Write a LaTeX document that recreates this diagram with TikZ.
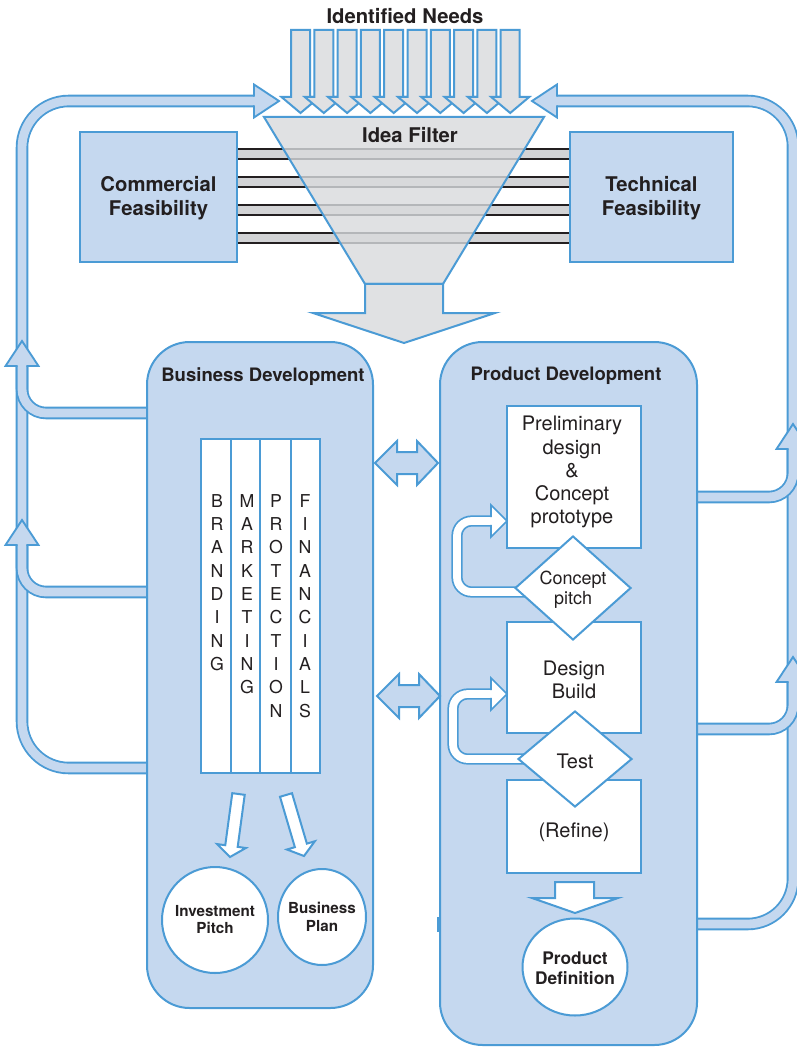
\documentclass[tikz,border=0pt]{standalone}
\usepackage{fontspec}
\setmainfont{TeX Gyre Heros}
\usetikzlibrary{calc,shapes.geometric}

\definecolor{edge}{HTML}{4B9BD5}
\definecolor{pale}{HTML}{C5D8EF}
\definecolor{funnelgray}{HTML}{E0E1E3}
\definecolor{stripegray}{HTML}{D2D3D5}
\definecolor{innerstripe}{HTML}{D8D9DB}
\definecolor{rulegray}{HTML}{B4B6B9}
\definecolor{ink}{HTML}{231F20}

\tikzset{
  outline/.style={draw=edge, line width=1.5pt, line join=miter},
  panel/.style={outline, fill=pale},
  whitebox/.style={outline, fill=white},
  grayshape/.style={outline, fill=funnelgray},
  band/.style={draw=edge, line width=1.4pt, double=pale, double distance=6.6pt},
  whiteband/.style={draw=edge, line width=1.3pt, double=white, double distance=5.8pt},
  blackrule/.style={draw=ink, line width=2pt},
  grayrule/.style={draw=rulegray, line width=1.6pt},
  headline/.style={font=\bfseries\fontsize{15.2}{18}\selectfont, text=ink, align=center, inner sep=0pt},
  paneltitle/.style={font=\bfseries\fontsize{13.9}{16}\selectfont, text=ink, inner sep=0pt},
  steptext/.style={font=\fontsize{15}{17.3}\selectfont, text=ink, align=center, inner sep=0pt},
  pitchtext/.style={font=\fontsize{13.5}{15}\selectfont, text=ink, align=center, inner sep=0pt},
  lettertext/.style={font=\fontsize{13.3}{17.5}\selectfont, text=ink, align=center, inner sep=0pt, anchor=north},
  outcometext/.style={font=\bfseries\fontsize{11.4}{13}\selectfont, text=ink, align=center, inner sep=0pt},
  bandhead/.pic={
    \fill[pale] (0,-16.5) -- (25,0) -- (0,16.5) -- cycle;
    \draw[edge, line width=1.4pt, line join=miter] (0,-4.4) -- (0,-16.5) -- (25,0) -- (0,16.5) -- (0,4.4);
  },
  loophead/.pic={
    \fill[white] (0,-16) -- (16,0) -- (0,16) -- cycle;
    \draw[edge, line width=1.3pt, line join=miter] (0,-3.9) -- (0,-16) -- (16,0) -- (0,16) -- (0,3.9);
  },
}

% hollow block arrow from #1 (tail) to #2 (tip)
\newcommand\hollowarrow[2]{%
  \coordinate (ha-head) at ($(#2)!8.3pt!(#1)$);
  \draw[whitebox]
    ($(#1)!4.7pt!90:(#2)$) -- ($(ha-head)!4.7pt!90:(#2)$) --
    ($(ha-head)!10.9pt!90:(#2)$) -- (#2) --
    ($(ha-head)!10.9pt!-90:(#2)$) -- ($(ha-head)!4.7pt!-90:(#2)$) --
    ($(#1)!4.7pt!-90:(#2)$) -- cycle;
}

\begin{document}
\begin{tikzpicture}[x=0.75pt, y=-0.75pt]
\useasboundingbox (0,0) rectangle (796,1048);

% ---------- feedback loops ----------
\draw[band, rounded corners=35pt] (148,768) -- (22,768) -- (22,101) -- (254,101);
\pic at (254,101) {bandhead};
\draw[band, rounded corners=18pt] (148,413) -- (22,413) -- (22,366);
\pic[rotate=90] at (22,366) {bandhead};
\draw[band, rounded corners=18pt] (148,592) -- (22,592) -- (22,545);
\pic[rotate=90] at (22,545) {bandhead};

\draw[band, rounded corners=34pt] (697,924) -- (793,924) -- (793,101) -- (557,101);
\pic[rotate=180] at (557,101) {bandhead};
\draw[band, rounded corners=18pt] (697,497) -- (793,497) -- (793,449);
\pic[rotate=90] at (793,449) {bandhead};
\draw[band, rounded corners=18pt] (697,729) -- (793,729) -- (793,682);
\pic[rotate=90] at (793,682) {bandhead};

% ---------- incoming needs ----------
\node[headline] (needs) at (405,16) {Identified Needs};
\foreach \i in {0,...,9} {
  \pgfmathsetmacro\cx{300.5+23.3*\i}
  \draw[grayshape] (\cx-9.5,30) -- (\cx+9.5,30) -- (\cx+9.5,97) -- (\cx+19,97)
    -- (\cx,113) -- (\cx-19,97) -- (\cx-9.5,97) -- cycle;
}

% ---------- feasibility links ----------
\foreach \ya/\yb in {149/159,177/187,205/215,233/243} {
  \fill[stripegray] (236,\ya) rectangle (570,\yb);
  \draw[blackrule] (236,\ya) -- (570,\ya) (236,\yb) -- (570,\yb);
}

% ---------- idea filter ----------
\fill[funnelgray] (264,117) -- (544,117) -- (443,284) -- (365,284) -- cycle;
\begin{scope}
  \clip (264,117) -- (544,117) -- (443,284) -- (365,284) -- cycle;
  \foreach \ya/\yb in {149/159,177/187,205/215,233/243} {
    \fill[innerstripe] (236,\ya) rectangle (570,\yb);
    \draw[grayrule] (236,\ya) -- (570,\ya) (236,\yb) -- (570,\yb);
  }
\end{scope}
\draw[outline] (264,117) -- (544,117) -- (443,284) -- (365,284) -- cycle;
\node[headline] (filter) at (410,135.5) {Idea Filter};
\draw[grayshape] (365,284) -- (443,284) -- (443,313) -- (495,313) -- (404,343)
  -- (313,313) -- (365,313) -- cycle;

\node[panel, minimum width=117.75pt, minimum height=97.5pt, inner sep=0] (comm) at (158.5,197) {};
\node[headline] (commtxt) at (158.5,198) {Commercial\\Feasibility};
\node[panel, minimum width=122.25pt, minimum height=97.5pt, inner sep=0] (tech) at (651.5,197) {};
\node[headline] (techtxt) at (651.5,198) {Technical\\Feasibility};

% ---------- development panels ----------
\node[panel, rounded corners=32pt, minimum width=169.5pt, minimum height=499.5pt, inner sep=0] (biz) at (260,675) {};
\node[panel, rounded corners=32pt, minimum width=192.75pt, minimum height=527.25pt, inner sep=0] (prod) at (568.5,693.5) {};
\fill[edge] (437,917) rectangle (441,932);
\node[paneltitle] (biztitle) at (263,377) {Business Development};
\node[paneltitle] (prodtitle) at (566,376) {Product Development};

% two-way exchanges between the panels
\draw[panel] (375,463) -- (397,441) -- (397,452) -- (417,452) -- (417,441) -- (438,463)
  -- (417,485) -- (417,474) -- (397,474) -- (397,485) -- cycle;
\draw[panel] (377,696) -- (399,674) -- (399,685) -- (419,685) -- (419,674) -- (440,696)
  -- (419,718) -- (419,707) -- (399,707) -- (399,718) -- cycle;

% business strands
\node[whitebox, minimum width=22.5pt, minimum height=250.5pt, inner sep=0] (colB) at (216,606) {};
\node[whitebox, minimum width=22pt, minimum height=250.5pt, inner sep=0] (colM) at (245.75,606) {};
\node[whitebox, minimum width=23pt, minimum height=250.5pt, inner sep=0] (colP) at (275.5,606) {};
\node[whitebox, minimum width=22pt, minimum height=250.5pt, inner sep=0] (colF) at (305.25,606) {};
\node[lettertext] (txtB) at (217,494) {B\\R\\A\\N\\D\\I\\N\\G};
\node[lettertext] (txtM) at (247,494) {M\\A\\R\\K\\E\\T\\I\\N\\G};
\node[lettertext] (txtP) at (276,494) {P\\R\\O\\T\\E\\C\\T\\I\\O\\N};
\node[lettertext] (txtF) at (305,494) {F\\I\\N\\A\\N\\C\\I\\A\\L\\S};

\coordinate (invtail) at (238.5,794);
\coordinate (invtip) at (230,857);
\coordinate (plantail) at (286,795);
\coordinate (plantip) at (304,856);
\hollowarrow{invtail}{invtip}
\hollowarrow{plantail}{plantip}

\node[circle, whitebox, minimum size=79.5pt, inner sep=0] (invest) at (215,920) {};
\node[outcometext] (investtxt) at (215,919.5) {Investment\\Pitch};
\node[ellipse, whitebox, minimum width=66pt, minimum height=72pt, inner sep=0] (plan) at (322,917) {};
\node[outcometext] (plantxt) at (322,917) {Business\\Plan};

% product steps
\node[whitebox, minimum width=100.5pt, minimum height=106.5pt, inner sep=0] (prelim) at (574,477) {};
\node[steptext] (prelimtxt) at (572,472) {Preliminary\\design\\\&\\Concept\\prototype};
\node[whitebox, minimum width=100.5pt, minimum height=83.25pt, inner sep=0] (build) at (574,677.5) {};
\node[steptext] (buildtxt) at (574,680) {Design\\Build};
\node[whitebox, minimum width=100.5pt, minimum height=69.75pt, inner sep=0] (refine) at (574,826.5) {};
\node[steptext] (refinetxt) at (574,832) {(Refine)};

\draw[whiteband, rounded corners=11pt] (535,592) -- (457,592) -- (457,521) -- (491,521);
\pic at (491,521) {loophead};
\draw[whiteband, rounded corners=11pt] (535,759) -- (453,759) -- (453,694) -- (491,694);
\pic at (491,694) {loophead};

\node[diamond, whitebox, minimum width=87pt, minimum height=78pt, inner sep=0] (pitch) at (573,588) {};
\node[pitchtext] (pitchtxt) at (573,590) {Concept\\pitch};
\node[diamond, whitebox, minimum width=85.5pt, minimum height=72pt, inner sep=0] (test) at (575,759) {};
\node[steptext] (testtxt) at (575,761) {Test};

\draw[whitebox] (555,882) -- (594,882) -- (594,898) -- (618,898) -- (575,913)
  -- (532,898) -- (555,898) -- cycle;
\node[ellipse, whitebox, minimum width=78.75pt, minimum height=72.75pt, inner sep=0] (def) at (575,967) {};
\node[headline, font=\bfseries\fontsize{13}{15}\selectfont] (deftxt) at (575,968) {Product\\Definition};

\end{tikzpicture}
\end{document}
